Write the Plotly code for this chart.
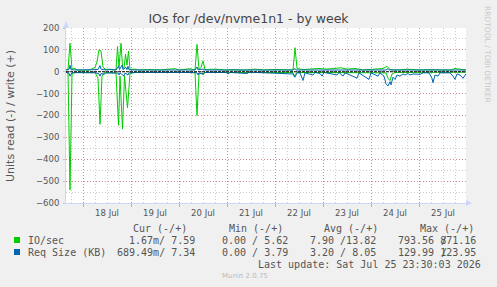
import plotly.graph_objects as go
import pandas as pd

# ---------------- data ----------------
START = pd.Timestamp("2026-07-17 15:30")
END = pd.Timestamp("2026-07-25 23:30")

# (hours since START, value)
io_write = [(0, 8), (1, 12), (2, 130), (3, 12), (4.5, 15), (5.5, 8), (9.5, 7), (12, 8),
            (14.5, 20), (15.5, 45), (16.5, 100), (17.5, 95), (18.5, 20), (20, 10), (22, 12),
            (23.5, 8), (25, 10), (25.75, 115), (26.5, 20), (27.5, 130), (28.25, 25), (29, 15),
            (29.75, 80), (30.5, 30), (31.25, 95), (32, 10), (34.5, 12), (37, 8), (42, 10),
            (47, 8), (51.5, 12), (54.5, 14), (56.5, 8), (59.5, 12), (62, 14), (64.5, 8),
            (65.5, 125), (66.5, 10), (67.5, 20), (68.5, 50), (69.5, 10), (74.5, 12), (79.5, 8),
            (84, 10), (89, 7), (94.5, 12), (99, 8), (104, 10), (109, 8), (113.5, 8),
            (114.5, 110), (115.5, 15), (118.5, 10), (122.5, 14), (126.5, 15), (130.5, 12),
            (134.5, 15), (137.5, 18), (140.5, 12), (144.5, 15), (148.5, 8), (153, 10),
            (158.5, 15), (160.5, 25), (162, 10), (166.5, 8), (170.5, 12), (176.5, 8),
            (182.5, 10), (188.5, 8), (192.5, 8), (194.5, 15), (196.5, 12), (200, 8)]

io_read = [(0, -2), (1, -5), (2, -540), (3, -10), (4.5, -3), (14.5, -3), (16, -30), (17, -240),
           (18, -20), (19, -5), (25, -5), (26.25, -245), (27, -20), (28.25, -262), (29.25, -20),
           (30.75, -165), (32, -8), (34.5, -3), (64.5, -3), (65.5, -200), (66.5, -10), (68, -5),
           (68.5, -15), (69.5, -3), (113.5, -3), (114, -20), (115.5, -3), (160, -5), (161, -30),
           (162, -40), (163, -10), (164.5, -3), (200, -2)]

req_write = [(0, 8), (1.5, 10), (2, 30), (2.5, 10), (5, 8), (16, 10), (17, 28), (17.5, 12),
             (20, 8), (22, 10), (25, 8), (26.25, 25), (26.75, 10), (28, 30), (28.5, 10), (30, 20),
             (30.5, 10), (31, 25), (31.5, 9), (34.5, 8), (64.5, 8), (65.5, 22), (66, 9),
             (68.5, 12), (69.5, 8), (113.5, 8), (114.5, 15), (115, 8), (160, 8), (161, 14),
             (161.5, 9), (163.5, 8), (200, 8)]

req_read = [(0, -3), (1.5, -6), (2, -20), (2.5, -8), (3, -4), (15, -5), (16.5, -10), (17, -20),
            (17.5, -8), (19, -12), (20, -5), (26, -6), (26.5, -15), (27, -5), (29, -20),
            (29.5, -6), (31, -15), (31.5, -5), (34.5, -3), (60, -3), (65.5, -5), (66, -15),
            (66.5, -5), (68, -10), (69.5, -3), (80, -3), (81, -10), (82, -3), (90.5, -8),
            (91.5, -2), (113.5, -10), (114.5, -25), (115.5, -5), (117, -5), (118.5, -40),
            (119.5, -5), (123.5, -15), (124.5, -3), (127, -8), (128, -20), (129, -3),
            (135.5, -15), (136.5, -3), (138.5, -20), (139.5, -5), (144.5, -25), (145.5, -30),
            (146.5, -5), (150.5, -30), (151.5, -35), (152.5, -5), (156, -20), (157, -5),
            (159, -20), (160, -55), (161, -65), (162, -45), (162.5, -60), (163.5, -25),
            (164.5, -35), (165.5, -15), (167, -20), (168.5, -10), (169.5, -15), (171, -8),
            (172, -15), (173.5, -10), (177, -12), (178.5, -5), (181.5, -5), (183, -30),
            (183.5, -50), (184.5, -15), (186, -20), (187, -5), (192, -5), (193.5, -20),
            (194.5, -35), (195.5, -10), (197, -15), (198.5, -30), (199.5, -20), (200, -10)]

DAY_STARTS = ["2026-07-18", "2026-07-19", "2026-07-20", "2026-07-21",
              "2026-07-22", "2026-07-23", "2026-07-24", "2026-07-25"]
DAY_LABELS = ["18 Jul", "19 Jul", "20 Jul", "21 Jul", "22 Jul", "23 Jul", "24 Jul", "25 Jul"]
Y_TICKS = [-600, -500, -400, -300, -200, -100, 0, 100, 200]

SERIES = ["IO/sec", "Req Size (KB)"]
CUR = ["1.67m/ 7.59", "689.49m/ 7.34"]
MIN = ["0.00 / 5.62", "0.00 / 3.79"]
AVG = ["7.90 /13.82", "3.20 / 8.05"]
MAX = ["793.56 871.16", "129.99 123.95"]
HEADERS = ["Cur (-/+)", "Min (-/+)", "Avg (-/+)", "Max (-/+)"]

GREEN = "#00CC00"
BLUE = "#0066B3"
FONT = "#555555"
AXIS = "#CFD6F8"

# ---------------- figure ----------------
W, H = 497, 287
L, R, T, B = 66, 31, 28, 84
PW, PH = W - L - R, H - T - B


def px(x):
    return (x - L) / PW


def py(y):
    return (T + PH - y) / PH


def series_xy(pairs):
    xs = [START + pd.Timedelta(hours=h) for h, _ in pairs]
    ys = [v for _, v in pairs]
    return xs, ys


fig = go.Figure()
for pairs, color in [(io_write, GREEN), (io_read, GREEN), (req_write, BLUE), (req_read, BLUE)]:
    xs, ys = series_xy(pairs)
    fig.add_trace(go.Scatter(x=xs, y=ys, mode="lines", line=dict(color=color, width=1),
                             showlegend=False, hoverinfo="skip"))

# invisible trace for label axis
fig.add_trace(go.Scatter(x=[START, END], y=[0, 0], xaxis="x2", mode="lines",
                         line=dict(width=0), showlegend=False, hoverinfo="skip"))

day_starts = [pd.Timestamp(d) for d in DAY_STARTS]
label_pos = [d + pd.Timedelta(hours=12) for d in day_starts]

MGRID = "rgba(222,81,81,0.55)"
GRID = "rgba(143,143,143,0.45)"

fig.update_layout(
    width=W, height=H,
    margin=dict(l=L, r=R, t=T, b=B, pad=0),
    paper_bgcolor="#F0F0F0", plot_bgcolor="#FFFFFF",
    font=dict(family="DejaVu Sans", size=8.5, color=FONT),
    title=dict(text="IOs for /dev/nvme1n1 - by week", x=0.5, xanchor="center",
               y=1 - 19 / H, yanchor="middle", yref="container",
               font=dict(family="DejaVu Sans", size=12.5, color="#444444")),
    xaxis=dict(type="date", range=[START, END], tickmode="array", tickvals=day_starts,
               showticklabels=False, ticks="outside", ticklen=3, tickcolor=MGRID,
               showgrid=True, gridcolor=MGRID, griddash="1px,2px", gridwidth=1,
               minor=dict(dtick=6 * 3600 * 1000, tick0="2026-07-17 00:00", showgrid=True,
                          gridcolor=GRID, griddash="1px,2px", gridwidth=1, ticks=""),
               showline=True, linecolor=AXIS, linewidth=1, zeroline=False, fixedrange=True),
    xaxis2=dict(type="date", range=[START, END], overlaying="x", side="bottom",
                tickmode="array", tickvals=label_pos, ticktext=DAY_LABELS,
                showgrid=False, ticks="", showline=False, zeroline=False,
                tickfont=dict(size=8.5, color=FONT), ticklabelstandoff=3),
    yaxis=dict(range=[-600, 200], tickmode="array", tickvals=Y_TICKS,
               ticks="outside", ticklen=2, tickcolor=GRID,
               showgrid=True, gridcolor=MGRID, griddash="1px,2px", gridwidth=1,
               minor=dict(dtick=50, showgrid=True, gridcolor=GRID, griddash="1px,2px",
                          gridwidth=1, ticks=""),
               showline=True, linecolor=AXIS, linewidth=1, zeroline=False,
               tickfont=dict(size=8.5, color=FONT), ticklabelstandoff=2),
)

shapes = []
# zero line
shapes.append(dict(type="line", xref="paper", yref="y", x0=0, x1=1, y0=0, y1=0,
                   line=dict(color="#000000", width=1, dash="3px,1px"), layer="above"))
# arrows
shapes.append(dict(type="path", xref="paper", yref="paper",
                   path=f"M {px(466)} {py(200)} L {px(472)} {py(203)} L {px(466)} {py(206)} Z",
                   fillcolor=AXIS, line=dict(width=0)))
shapes.append(dict(type="path", xref="paper", yref="paper",
                   path=f"M {px(63)} {py(28)} L {px(66)} {py(21)} L {px(69)} {py(28)} Z",
                   fillcolor=AXIS, line=dict(width=0)))
# legend swatches
for i, c in enumerate([GREEN, BLUE]):
    yc = 240 + i * 12
    shapes.append(dict(type="rect", xref="paper", yref="paper",
                       x0=px(14), x1=px(20), y0=py(yc + 3), y1=py(yc - 3),
                       fillcolor=c, line=dict(width=0)))
fig.update_layout(shapes=shapes)

MONO = dict(family="DejaVu Sans Mono", size=10, color=FONT)
ann = []


def text(x, y, s, anchor="left", font=MONO, angle=0):
    ann.append(dict(x=px(x), y=py(y), xref="paper", yref="paper", text=s, showarrow=False,
                    xanchor=anchor, yanchor="middle", font=font, textangle=angle))


for s, xr in zip(HEADERS, [189, 285, 380, 476]):
    text(xr, 228, s, anchor="right")
for i in range(2):
    y = 240 + i * 12
    text(26, y, SERIES[i])
    text(197, y, CUR[i], anchor="right")
    text(290, y, MIN[i], anchor="right")
    text(378, y, AVG[i], anchor="right")
    text(478, y, MAX[i], anchor="right")
    text(444, y, "/", anchor="center")
text(483, 264, "Last update: Sat Jul 25 23:30:03 2026", anchor="right")
text(245, 276, "Munin 2.0.75", anchor="center",
     font=dict(family="DejaVu Sans", size=7, color="#BBBBBB"))
text(10, 116, "Units read (-) / write (+)", anchor="center",
     font=dict(family="DejaVu Sans", size=11, color=FONT), angle=-90)
text(488, 54, "RRDTOOL / TOBI OETIKER", anchor="center",
     font=dict(family="DejaVu Sans", size=7.5, color="#C8C8C8"), angle=90)
fig.update_layout(annotations=ann)

fig.write_html("out.html")
